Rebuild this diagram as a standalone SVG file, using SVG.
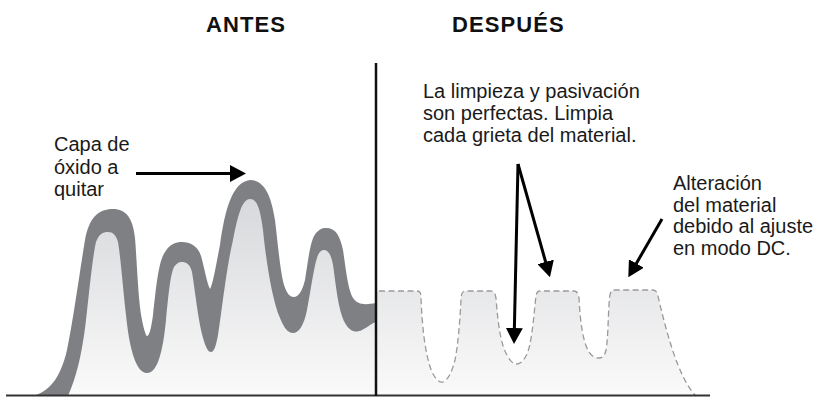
<svg xmlns="http://www.w3.org/2000/svg" width="822" height="397" viewBox="0 0 822 397">
<style>
.title{font-family:"Liberation Sans",Arial,sans-serif;font-weight:bold;font-size:22px;letter-spacing:1.1px;fill:#111}
.lbl{font-family:"Liberation Sans",Arial,sans-serif;font-size:20px;fill:#1a1a1a}
.arrow{stroke:#000;stroke-width:3;fill:none;marker-end:url(#ah)}
.band{fill:#7f8084}
.surf{fill:url(#g)}
.dash{fill:none;stroke:#9a9a9c;stroke-width:1.3;stroke-dasharray:6 3.5}
</style>
<defs>
<linearGradient id="g" gradientUnits="userSpaceOnUse" x1="0" y1="190" x2="0" y2="396">
<stop offset="0" stop-color="#d6d7da"/>
<stop offset="1" stop-color="#fafafa"/>
</linearGradient>
<marker id="ah" markerUnits="userSpaceOnUse" markerWidth="16" markerHeight="17" refX="8" refY="8.5" orient="auto" viewBox="0 0 16 17">
<path d="M0,0 L16,8.5 L0,17 Z" fill="#000"/>
</marker>
</defs>
<rect width="822" height="397" fill="#fff"/>

<g id="antes-profile">
<path class="band" d="M33,396 C48,392 60,380 67,350 C73,322 80,270 85,240 C89,218 98,209 113,209 C126,209 133,218 135,238 C137,262 138,300 142,320 C144,330 146,336 147,336 C149,336 151,330 153,315 C156,290 158,262 165,252 C170,244 176,242 182,242 C190,242 198,246 201,256 C204,266 207,284 210,289 C213,284 216,265 220,245 C225,210 232,182 250,180 C266,180 272,200 275,220 C278,245 280,270 284,285 C287,294 290,297 294,297 C298,297 302,292 305,280 C308,262 310,240 316,233 C320,229 322,228 326,228 C336,228 340,236 343,250 C346,270 348,290 353,298 C358,305 365,305 376,303 L376,396 Z"/>
<path class="surf" d="M68,396 C76,378 82,355 86,320 C89,295 92,260 96,242 C99,234 103,232 108,232 C113,232 116,235 118,242 C121,260 123,290 126,315 C129,345 135,373 147,373 C158,373 163,350 166,320 C168,300 170,275 174,267 C177,263 179,262 182,262 C186,262 190,264 192,272 C195,290 198,320 203,338 C206,348 208,352 211,352 C214,352 216,346 218,335 C222,310 226,270 233,240 C238,215 242,199 250,199 C257,199 260,208 263,230 C266,260 272,300 280,318 C284,328 288,333 293,333 C299,333 304,325 307,310 C311,290 314,265 318,255 C320,251 322,250 324,250 C328,250 331,254 333,265 C336,285 338,310 345,323 C350,332 356,333 362,330 C368,327 372,323 376,322 L376,396 Z"/>
</g>

<g id="despues-profile">
<path class="surf" d="M376,291 L417,291 C420,291 421,293 421,298 C422,325 425,355 432,372 C436,380 440,383 443,382 C448,380 452,372 455,360 C458,345 460,320 461,300 C461.5,293 462,291 466,291 L491,291 C494,291 495,293 496,298 C498,325 501,345 507,355 C510,361 513,364 517,364 C521,364 524,360 527,354 C531,345 533,325 535,305 C536,295 536,291 540,291 L574,291 C577,291 578,293 579,298 C580,320 583,343 589,352 C592,357 596,358 599,358 C603,358 605,355 606,350 C608,340 608,320 609,305 C609.5,295 610,290 614,290 L653,290 C656,290 657,292 658,296 C663,318 670,345 678,365 C684,380 690,390 696,396 L376,396 Z"/>
<path class="dash" d="M379,291 L417,291 C420,291 421,293 421,298 C422,325 425,355 432,372 C436,380 440,383 443,382 C448,380 452,372 455,360 C458,345 460,320 461,300 C461.5,293 462,291 466,291 L491,291 C494,291 495,293 496,298 C498,325 501,345 507,355 C510,361 513,364 517,364 C521,364 524,360 527,354 C531,345 533,325 535,305 C536,295 536,291 540,291 L574,291 C577,291 578,293 579,298 C580,320 583,343 589,352 C592,357 596,358 599,358 C603,358 605,355 606,350 C608,340 608,320 609,305 C609.5,295 610,290 614,290 L653,290 C656,290 657,292 658,296 C663,318 670,345 678,365 C684,380 690,390 696,396"/>
</g>

<g id="axes">
<line x1="6" y1="395.5" x2="710" y2="395.5" stroke="#333" stroke-width="2"/>
<line x1="376" y1="63" x2="376" y2="396" stroke="#111" stroke-width="2.5"/>
</g>

<g id="title-antes"><text class="title" x="206" y="32">ANTES</text></g>
<g id="title-despues"><text class="title" x="452" y="32">DESPUÉS</text></g>

<g id="label-oxido">
<text class="lbl" x="54" y="151">Capa de</text>
<text class="lbl" x="54" y="174">óxido a</text>
<text class="lbl" x="54" y="196">quitar</text>
</g>

<g id="label-limpieza">
<text class="lbl" x="423" y="98">La limpieza y pasivación</text>
<text class="lbl" x="423" y="120">son perfectas. Limpia</text>
<text class="lbl" x="423" y="142">cada grieta del material.</text>
</g>

<g id="label-alteracion">
<text class="lbl" x="673" y="190">Alteración</text>
<text class="lbl" x="673" y="212">del material</text>
<text class="lbl" x="673" y="233">debido al ajuste</text>
<text class="lbl" x="673" y="255">en modo DC.</text>
</g>

<g id="connectors">
<line class="arrow" x1="136" y1="173.5" x2="238" y2="173.5"/>
<line class="arrow" x1="518" y1="164" x2="514.2" y2="336"/>
<line class="arrow" x1="518" y1="164" x2="547.8" y2="269.6"/>
<line class="arrow" x1="662" y1="219" x2="632.3" y2="270.4"/>
</g>
</svg>
